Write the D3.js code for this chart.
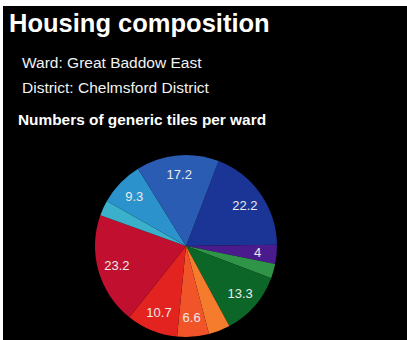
<!DOCTYPE html>
<html>
<head>
<meta charset="utf-8">
<script src="https://cdn.jsdelivr.net/npm/d3@7"></script>
<style>
  body { margin: 0; background: #fff; }
  .chart { position: absolute; left: 3px; top: 6px; }
</style>
</head>
<body>
<div class="chart"></div>
<script>
// slice data, clockwise starting from the navy slice
const categories = ['navy', 'purple', 'lightgreen', 'darkgreen', 'lightorange', 'orange', 'red', 'crimson', 'cyan', 'lightblue', 'blue']
const values = [22.2, 4, 3.0, 13.3, 4.5, 6.6, 10.7, 23.2, 3.2, 9.3, 17.2]
const labels = ['22.2', '4', '', '13.3', '', '6.6', '10.7', '23.2', '', '9.3', '17.2']
const colors = ['#1b3596', '#4a1b8d', '#2f9447', '#0c6628', '#f57c2c', '#f2542a', '#e3231f', '#c1102f', '#3bb0ca', '#2b92cc', '#2a5cb3']

const width = 404, height = 334
const cx = 183, cy = 240, radius = 91
const startDeg = 21

const svg = d3.select('.chart')
  .append('svg')
    .attr('width', width)
    .attr('height', height)
    .style('display', 'block')

svg.append('rect')
  .attr('width', width)
  .attr('height', height)
  .attr('fill', '#000')

// headings
svg.append('text')
  .attr('x', 6).attr('y', 26)
  .text('Housing composition')
  .style('font-family', 'Arial, "Liberation Sans", sans-serif')
  .style('font-weight', 'bold')
  .style('font-size', '25.5px')
  .attr('fill', '#fff')

svg.append('text')
  .attr('x', 19).attr('y', 62)
  .text('Ward: Great Baddow East')
  .style('font-family', 'Arial, "Liberation Sans", sans-serif')
  .style('font-size', '15.5px')
  .attr('fill', '#f2f2f2')

svg.append('text')
  .attr('x', 19).attr('y', 87)
  .text('District: Chelmsford District')
  .style('font-family', 'Arial, "Liberation Sans", sans-serif')
  .style('font-size', '15.5px')
  .attr('fill', '#f2f2f2')

svg.append('text')
  .attr('x', 15).attr('y', 119)
  .text('Numbers of generic tiles per ward')
  .style('font-family', 'Arial, "Liberation Sans", sans-serif')
  .style('font-weight', 'bold')
  .style('font-size', '15.4px')
  .attr('fill', '#fff')

// pie
const start = startDeg * Math.PI / 180
const pie = d3.pie()
  .value(d => d)
  .sort(null)
  .startAngle(start)
  .endAngle(start + 2 * Math.PI)

const arcs = pie(values)
const arc = d3.arc().innerRadius(0).outerRadius(radius)
const labelArc = d3.arc().innerRadius(radius * 0.79).outerRadius(radius * 0.79)

const g = svg.append('g')
  .attr('transform', `translate(${cx},${cy})`)

g.selectAll('.slice')
  .data(arcs)
  .join('path')
    .attr('class', (d, i) => `slice ${categories[i]}`)
    .attr('d', arc)
    .attr('fill', (d, i) => colors[i])

g.selectAll('.label')
  .data(arcs)
  .join('text')
    .attr('class', 'label')
    .attr('transform', d => `translate(${labelArc.centroid(d)})`)
    .attr('text-anchor', 'middle')
    .attr('dy', '0.36em')
    .text((d, i) => labels[i])
    .style('font-family', 'Arial, "Liberation Sans", sans-serif')
    .style('font-size', '13px')
    .attr('fill', '#eaeaea')
</script>
</body>
</html>
